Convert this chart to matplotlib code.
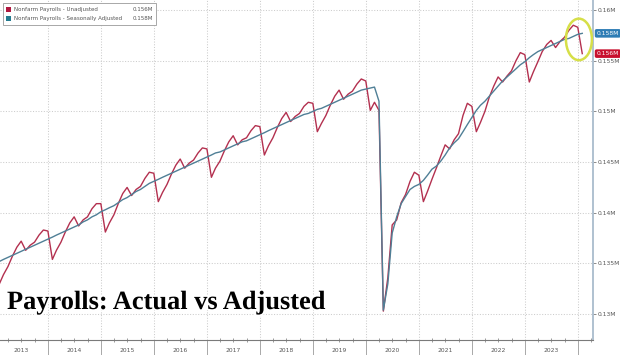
import matplotlib
matplotlib.use("Agg")
import matplotlib.pyplot as plt
import matplotlib.dates as mdates
import matplotlib.patheffects as pe
import matplotlib.transforms as mtransforms
from matplotlib.patches import Ellipse, Rectangle
from matplotlib.ticker import NullFormatter
import pandas as pd

# ---- data (millions of jobs, monthly Jan 2013 .. Jan 2024) ----
sa_values = [
    135.2, 135.4, 135.6, 135.8, 136.0, 136.2, 136.4, 136.6, 136.8, 137.0, 137.2, 137.4,
    137.6, 137.8, 138.0, 138.2, 138.4, 138.6, 138.8, 139.1, 139.3, 139.6, 139.8, 140.1,
    140.3, 140.5, 140.7, 141.0, 141.3, 141.5, 141.8, 142.1, 142.3, 142.6, 142.9, 143.1,
    143.3, 143.5, 143.7, 143.9, 144.1, 144.3, 144.5, 144.7, 144.9, 145.1, 145.3, 145.5,
    145.7, 145.9, 146.0, 146.2, 146.4, 146.6, 146.8, 147.0, 147.1, 147.3, 147.5, 147.7,
    147.9, 148.1, 148.3, 148.5, 148.7, 148.9, 149.1, 149.3, 149.5, 149.7, 149.8, 150.0,
    150.2, 150.3, 150.5, 150.7, 150.9, 151.1, 151.3, 151.5, 151.7, 151.9, 152.1, 152.2,
    152.3, 152.4, 151.0, 130.4, 133.0, 138.0, 139.6, 140.9, 141.6, 142.3, 142.6, 142.8,
    143.2, 143.7, 144.3, 144.6, 145.1, 145.7, 146.4, 146.9, 147.3, 148.0, 148.7, 149.4,
    150.1, 150.6, 151.0, 151.5, 152.0, 152.5, 153.0, 153.4, 153.8, 154.2, 154.6, 154.9,
    155.3, 155.6, 155.9, 156.1, 156.3, 156.5, 156.7, 156.9, 157.1, 157.2, 157.4, 157.6,
    157.7,
]
nsa_values = [
    133.0, 133.9, 134.7, 135.7, 136.6, 137.2, 136.3, 136.8, 137.1, 137.8, 138.3, 138.2,
    135.4, 136.3, 137.1, 138.1, 139.0, 139.6, 138.7, 139.3, 139.6, 140.4, 140.9, 140.9,
    138.1, 139.0, 139.8, 140.9, 141.9, 142.5, 141.7, 142.3, 142.6, 143.4, 144.0, 143.9,
    141.1, 142.0, 142.8, 143.8, 144.7, 145.3, 144.4, 144.9, 145.2, 145.9, 146.4, 146.3,
    143.5, 144.4, 145.1, 146.1, 147.0, 147.6, 146.7, 147.2, 147.4, 148.1, 148.6, 148.5,
    145.7, 146.6, 147.4, 148.4, 149.3, 149.9, 149.0, 149.5, 149.8, 150.5, 150.9, 150.8,
    148.0, 148.8, 149.6, 150.6, 151.5, 152.1, 151.2, 151.7, 152.0, 152.7, 153.2, 153.0,
    150.1, 150.9, 150.1, 130.3, 133.6, 138.8, 139.3, 141.0, 141.8, 143.1, 144.0, 143.7,
    141.1, 142.1, 143.3, 144.4, 145.6, 146.7, 146.3, 147.2, 147.8, 149.6, 150.8, 150.5,
    148.0, 148.9, 150.0, 151.4, 152.5, 153.4, 152.9, 153.5, 154.0, 155.0, 155.8, 155.6,
    152.9, 153.9, 154.9, 155.9, 156.6, 157.0, 156.3, 156.9, 157.3, 158.0, 158.5, 158.3,
    155.7,
]
start_month = "2013-01-31"
year_labels = ["2013", "2014", "2015", "2016", "2017", "2018", "2019",
               "2020", "2021", "2022", "2023"]
y_tick_values = [130, 135, 140, 145, 150, 155, 160]
y_tick_labels = ["0.13M", "0.135M", "0.14M", "0.145M", "0.15M", "0.155M", "0.16M"]
series_names = ["Nonfarm Payrolls - Unadjusted", "Nonfarm Payrolls - Seasonally Adjusted"]
last_labels = ["0.156M", "0.158M"]
title_text = "Payrolls: Actual vs Adjusted"

NSA_COLOR = "#b3304f"
SA_COLOR = "#4f7f96"
NSA_BOX = "#c8102e"
SA_BOX = "#2e7db5"
NSA_KEY = "#b0183f"
SA_KEY = "#237a8e"

try:
    dates = pd.date_range(start_month, periods=len(sa_values), freq="ME")
except Exception:
    dates = pd.date_range(start_month, periods=len(sa_values), freq="M")

fig = plt.figure(figsize=(6.2, 3.55), dpi=100)
fig.patch.set_facecolor("white")
ax = fig.add_axes([0, 15 / 355, 593 / 620, 340 / 355])
ax.set_facecolor("white")

ax.plot(dates, nsa_values, color=NSA_COLOR, lw=1.0, zorder=3, solid_joinstyle="round")
ax.plot(dates, sa_values, color=SA_COLOR, lw=1.0, zorder=4, solid_joinstyle="round")

ax.set_xlim(pd.Timestamp("2013-02-04"), pd.Timestamp("2024-04-14"))
ax.set_ylim(127.45, 160.99)

# y axis on right
ax.set_yticks(y_tick_values)
ax.set_yticklabels(y_tick_labels)
ax.yaxis.tick_right()
ax.tick_params(axis="y", length=2, width=0.6, color="#777777", pad=1.5,
               labelsize=4.3, labelcolor="#555555")

# x axis
ax.xaxis.set_major_locator(mdates.YearLocator())
ax.xaxis.set_major_formatter(NullFormatter())
ax.xaxis.set_minor_locator(mdates.MonthLocator(bymonth=[4, 7, 10]))
ax.xaxis.set_minor_formatter(NullFormatter())
ax.tick_params(axis="x", which="major", length=11, width=0.6, color="#9a9a9a", direction="out")
ax.tick_params(axis="x", which="minor", length=2.5, width=0.6, color="#8a8a8a", direction="inout")

ax.grid(True, which="major", axis="both", linestyle=(0, (1, 1.6)), color="#cccccc", lw=0.75)
ax.set_axisbelow(True)

for s in ["top", "left"]:
    ax.spines[s].set_visible(False)
ax.spines["right"].set_color("#a9bccd")
ax.spines["right"].set_linewidth(1.3)
ax.spines["bottom"].set_color("#7a7a7a")
ax.spines["bottom"].set_linewidth(0.8)

trans_x = mtransforms.blended_transform_factory(ax.transData, ax.transAxes)
for y in year_labels:
    ax.text(pd.Timestamp(f"{y}-07-01"), -0.030, y, transform=trans_x, ha="center",
            va="center", fontsize=4.3, color="#555555", clip_on=False)

# legend box (manual)
W, H = 593.0, 340.0
ax.add_patch(Rectangle((3 / W, 1 - 25 / H), 153 / W, 22 / H, transform=ax.transAxes,
                       facecolor="white", edgecolor="#9a9a9a", lw=0.6, zorder=6))
for i, (name, val, col) in enumerate(zip(series_names, last_labels, [NSA_KEY, SA_KEY])):
    yc = 9.5 + i * 9.0
    ax.add_patch(Rectangle((6 / W, 1 - (yc + 2.6) / H), 5.2 / W, 5.2 / H,
                           transform=ax.transAxes, facecolor=col, edgecolor="none", zorder=7))
    ax.text(14 / W, 1 - yc / H, name, transform=ax.transAxes, fontsize=4.0,
            color="#555555", va="center", ha="left", zorder=7)
    ax.text(153 / W, 1 - yc / H, val, transform=ax.transAxes, fontsize=4.0,
            color="#555555", va="center", ha="right", zorder=7)

# last-value boxes on right axis
trans_y = mtransforms.blended_transform_factory(ax.transAxes, ax.transData)
ax.text(1.006, sa_values[-1], last_labels[1], transform=trans_y, fontsize=4.3, color="white",
        va="center", ha="left", clip_on=False, zorder=8,
        bbox=dict(boxstyle="round,pad=0.3,rounding_size=0.3", fc=SA_BOX, ec="none"))
ax.text(1.006, nsa_values[-1], last_labels[0], transform=trans_y, fontsize=4.3, color="white",
        va="center", ha="left", clip_on=False, zorder=8,
        bbox=dict(boxstyle="round,pad=0.3,rounding_size=0.3", fc=NSA_BOX, ec="none"))

# highlight ellipse
ax.add_patch(Ellipse((mdates.date2num(pd.Timestamp("2024-01-08")), 157.1), width=179, height=4.1,
                     fill=False, edgecolor="#d6df48", lw=1.8, zorder=5))

# title
ax.text(7 / W, 1 - 309 / H, title_text, transform=ax.transAxes, fontsize=19,
        fontweight="bold", family="Liberation Serif", color="black", va="baseline",
        ha="left", zorder=9,
        path_effects=[pe.withStroke(linewidth=2.5, foreground="white")])

fig.savefig("out.png", dpi=100, facecolor="white")
